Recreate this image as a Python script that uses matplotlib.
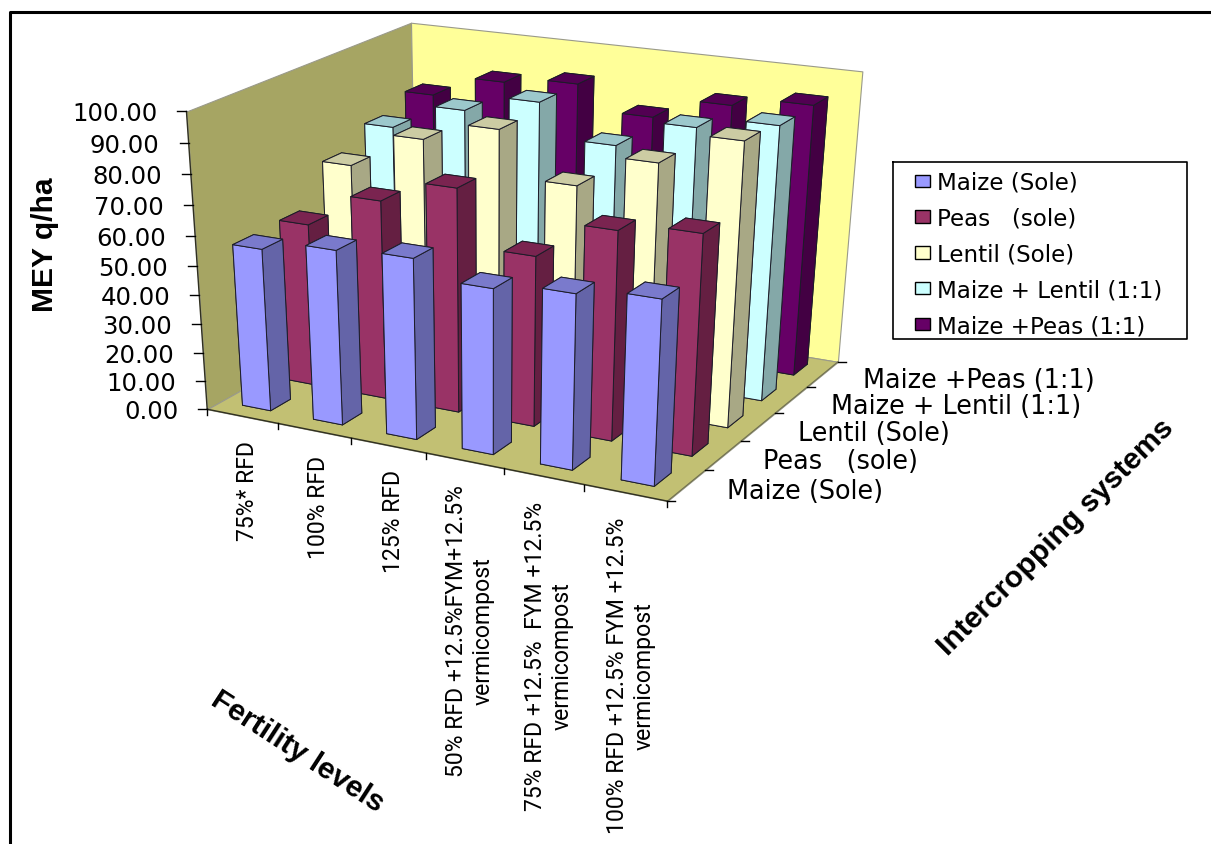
import numpy as np
import matplotlib
matplotlib.use('Agg')
import matplotlib.pyplot as plt
from matplotlib.lines import Line2D
from matplotlib.patches import Patch
from mpl_toolkits.mplot3d.art3d import Poly3DCollection

fertility = ['75%* RFD', '100% RFD', '125% RFD',
             '50% RFD +12.5%FYM+12.5%\nvermicompost',
             '75% RFD +12.5%  FYM +12.5%\nvermicompost',
             '100% RFD +12.5% FYM +12.5%\nvermicompost']
systems = ['Maize (Sole)', 'Peas   (sole)', 'Lentil (Sole)', 'Maize + Lentil (1:1)', 'Maize +Peas (1:1)']
z_ticks = [0, 10, 20, 30, 40, 50, 60, 70, 80, 90, 100]

maize_sole = [55.8, 59.4, 60.8, 55.2, 57.8, 60.4]
peas_sole = [56.4, 68.1, 75.9, 57.6, 69.8, 72.7]
lentil_sole = [69.4, 81.5, 88.0, 73.1, 83.9, 94.1]
maize_lentil = [75.8, 84.7, 90.5, 79.4, 88.5, 92.3]
maize_peas = [80.7, 88.1, 90.4, 82.3, 89.3, 92.4]
series = [maize_sole, peas_sole, lentil_sole, maize_lentil, maize_peas]

# front, side, top shades for each series
front_cols = ['#9999ff', '#993366', '#ffffcc', '#ccffff', '#660066']
side_cols = ['#6464a8', '#651f42', '#a8a885', '#84a8a8', '#430043']
top_cols = ['#7a7acc', '#7a2450', '#cccca3', '#9cc8cc', '#520052']

WIDTH, HEIGHT = 1211, 845

# camera: (x, y, z) box positions and where they land on the canvas
cam_box = [(0,0,0),(1,0,0),(2,0,0),(3,0,0),(4,0,0),(5,0,0),(6,0,0),(6,1,0),(6,2,0),(6,3,0),(6,4,0),(6,5,0),(0,5,0),
           (0,5,100),(6,5,100)] + [(0,0,z) for z in z_ticks[1:]]
cam_px = [(208,409),(277,423),(350,440),(426,455),(503,473),(582,488),(668,505),(706,470),(741,440),(776,412),(808,385),(838,360),(414,300),
          (412,20),(862,76),(206,380),(204,352),(202,324),(200,296),(198,266),(195,236),(193,207),(191,175),(188,146),(185,113)]


def fit_camera(box, px):
    rows = []
    rhs = []
    for (x, y, z), (u, v) in zip(box, px):
        rows.append([x, y, z, 1, 0, 0, 0, 0, -u*x, -u*y, -u*z])
        rhs.append(u)
        rows.append([0, 0, 0, 0, x, y, z, 1, -v*x, -v*y, -v*z])
        rhs.append(v)
    p = np.linalg.lstsq(np.array(rows, float), np.array(rhs, float), rcond=None)[0]
    P = np.append(p, 1).reshape(3, 4)
    # third row only orders the faces: larger means further from the viewer
    return np.vstack([P[0], P[1], [-0.3, 1.0, -0.01, 0.0], P[2]])


M = fit_camera(cam_box, cam_px)


def to_px(x, y, z):
    w = M @ np.array([x, y, z, 1.0])
    return w[0]/w[3], w[1]/w[3]


fig = plt.figure(figsize=(WIDTH/100, HEIGHT/100), dpi=100)
ax = fig.add_axes([0, 0, 1, 1], projection='3d', computed_zorder=False)
ax.get_proj = lambda: M
ax.apply_aspect = lambda position=None: None
ax.set_axis_off()
ax.viewLim.intervalx = (0, WIDTH)
ax.viewLim.intervaly = (HEIGHT, 0)

# walls and floor
panes = [([(0,0,0),(0,5,0),(0,5,100),(0,0,100)], '#a6a563'),
         ([(0,5,0),(6,5,0),(6,5,100),(0,5,100)], '#ffff99'),
         ([(0,0,0),(6,0,0),(6,5,0),(0,5,0)], '#c2c073')]
for verts, col in panes:
    ax.add_collection3d(Poly3DCollection([verts], facecolors=col, edgecolors='#9a9a8a', linewidths=0.8, zorder=1),
                        autolim=False)

# bars, back row first
order = 2
for j in range(len(series)-1, -1, -1):
    for i, val in enumerate(series[j]):
        # faces: bottom, top, front, back, left, right
        faces = [side_cols[j], top_cols[j], front_cols[j], side_cols[j], side_cols[j], side_cols[j]]
        ax.bar3d(i+0.30, j+0.31, 0, 0.40, 0.44, val, color=faces, shade=False,
                 edgecolor='#1c1c28', linewidth=0.7, zorder=order)
        order += 1


def draw_2d(xs, ys, lw=1.0, col='black'):
    ax.add_artist(Line2D(xs, ys, color=col, lw=lw, transform=ax.transData, zorder=200))


# axis edges
x0, y0 = to_px(0, 0, 0)
x1, y1 = to_px(6, 0, 0)
draw_2d([x0, x1], [y0, y1], lw=1.0, col='#303020')
x2, y2 = to_px(0, 0, 100)
draw_2d([x0, x2], [y0, y2], lw=1.0, col='#303020')
x3, y3 = to_px(6, 5, 0)
draw_2d([x1, x3], [y1, y3], lw=0.8, col='#707050')

# value axis
for t in z_ticks:
    u, v = to_px(0, 0, t)
    draw_2d([u-9, u], [v, v])
    ax.text2D(u-29, v+2, f'{t:.2f}', ha='right', va='center', fontsize=17.6,
              family='DejaVu Sans', color='black', transform=ax.transData)

# category ticks and labels along the front edge
for i in range(len(fertility)+1):
    u, v = to_px(i, 0, 0)
    draw_2d([u, u], [v, v+6])
for i, lab in enumerate(fertility):
    u, v = to_px(i+0.5, 0, 0)
    ax.text2D(u+5, v+24, lab, rotation=90, ha='center', va='top', multialignment='center',
              fontsize=16.6, family='Roboto', color='black', transform=ax.transData)

# series ticks and labels along the right edge
for j in range(len(systems)+1):
    u, v = to_px(6, j, 0)
    draw_2d([u, u+8], [v, v])
for j, lab in enumerate(systems):
    u, v = to_px(6, j+0.5, 0)
    ax.text2D(u+40, v+6, lab, ha='left', va='center', fontsize=18.4,
              family='DejaVu Sans', color='black', transform=ax.transData)

# axis titles
title_font = dict(family='Liberation Sans', fontweight='bold', fontsize=21.6, color='black',
                  ha='center', va='center', transform=ax.transData)
ax.text2D(45, 245, 'MEY q/ha', rotation=90, **title_font)
ax.text2D(297, 752, 'Fertility levels', rotation=-33, **title_font)
ax.text2D(1056, 537, 'Intercropping systems', rotation=45, **title_font)

# legend box and entries
draw_2d([893, 1187, 1187, 893, 893], [163, 163, 340, 340, 163], lw=1.2)
handles = [Patch(facecolor=front_cols[k], edgecolor='black', linewidth=1.0) for k in range(len(systems))]
leg = ax.legend(handles, systems, loc='upper left', bbox_to_anchor=(915, 172),
                bbox_transform=ax.transData, borderaxespad=0, borderpad=0, frameon=False,
                prop={'family': 'DejaVu Sans', 'size': 16.6},
                handlelength=0.67, handleheight=0.45, handletextpad=0.3, labelspacing=0.555)
leg.set_zorder(300)

# page frame
draw_2d([10, 10, WIDTH], [HEIGHT, 13, 13], lw=2.2)

fig.savefig('out.png', dpi=100)
